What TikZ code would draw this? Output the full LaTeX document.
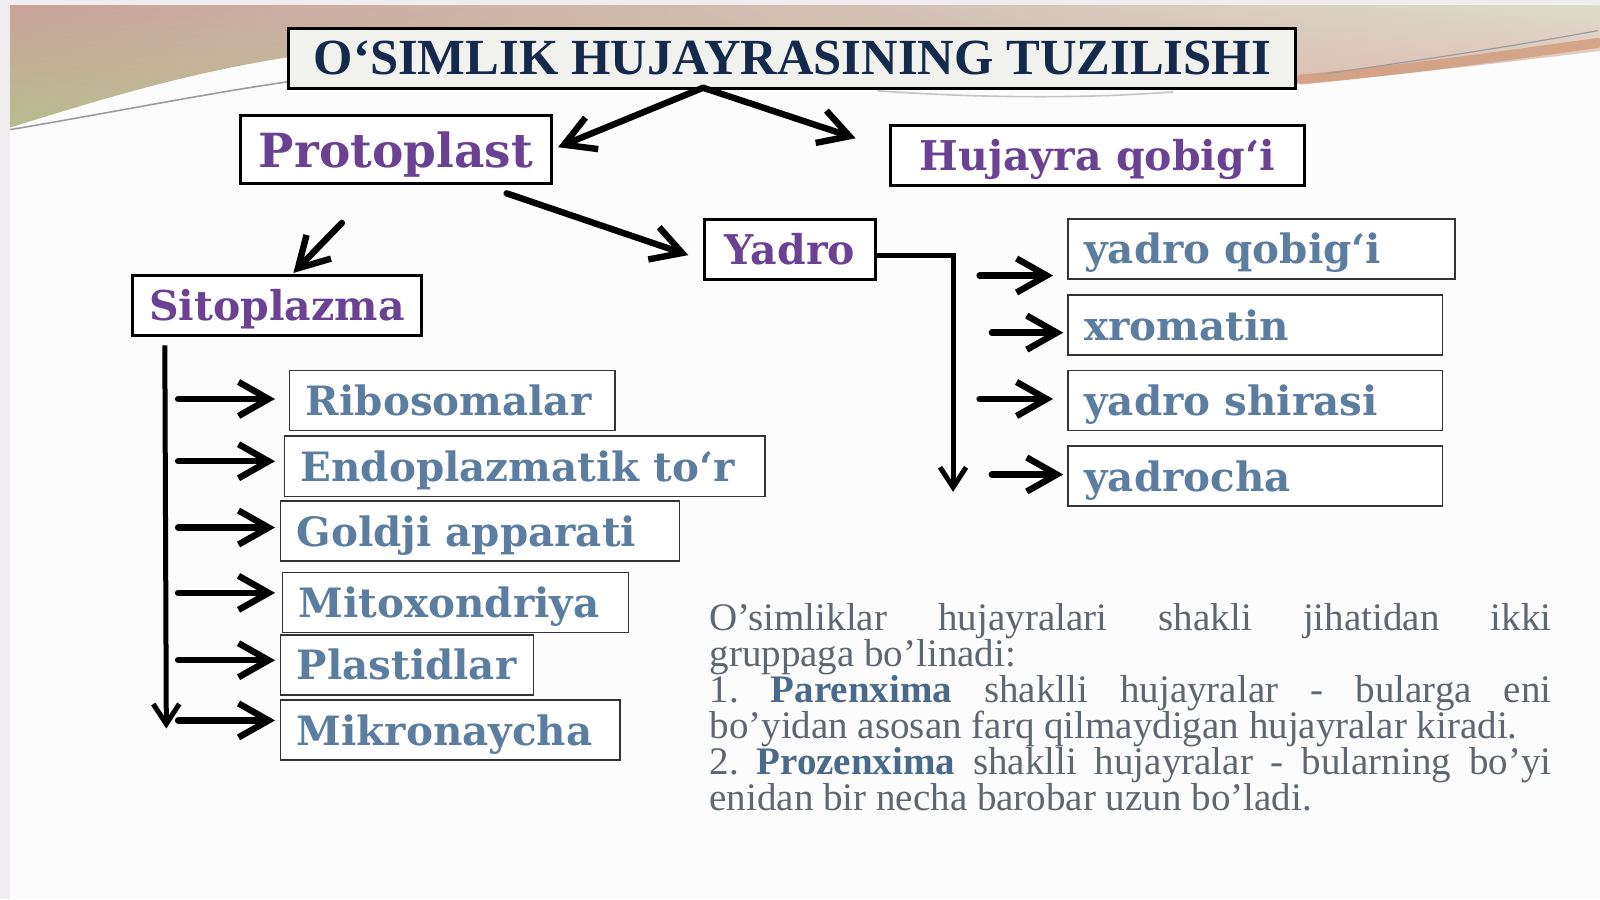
\documentclass[tikz,border=0pt]{standalone}
\usepackage{fontspec}
\setmainfont{Liberation Serif}
\newfontfamily\boxfont{DejaVu Serif}
\usetikzlibrary{arrows.meta, calc, shadings}
\newlength\px
\setlength\px{0.5102pt}
\definecolor{Frame}{HTML}{EFEDEF}
\definecolor{Slide}{HTML}{FCFCFC}
\definecolor{BandA}{HTML}{C8A39A}
\definecolor{BandB}{HTML}{B6BD8E}
\definecolor{BandC}{HTML}{DCDCCB}
\definecolor{BandD}{HTML}{E8B4AF}
\definecolor{Streak}{HTML}{CF9574}
\definecolor{Rule}{HTML}{9C9C9C}
\definecolor{Navy}{HTML}{15294D}
\definecolor{Violet}{HTML}{6B4193}
\definecolor{Steel}{HTML}{5A7DA0}
\definecolor{Prose}{HTML}{5E6670}
\definecolor{ProseBold}{HTML}{4A6A8C}
\definecolor{TitleFill}{HTML}{F1F2EE}
\tikzset{
	titlebox/.style={draw, line width=1.5pt, fill=TitleFill, inner sep=0pt, minimum height=59\px, text height=16pt, text depth=0pt, text=Navy, font=\bfseries\fontsize{25.3}{28}\selectfont},
	bigbox/.style={draw, line width=1.5pt, fill=white, inner sep=0pt, minimum height=59\px, text height=15pt, text depth=0pt, text=Violet, font=\boxfont\bfseries\fontsize{#1}{24}\selectfont},
	bigbox/.default=20.5,
	partbox/.style={draw=black!80, line width=0.8pt, fill=white, anchor=west, inner xsep=16\px, inner ysep=0pt, minimum height=59\px, text width=#1\px, align=flush left, text height=15pt, text depth=0pt, text=Steel, font=\boxfont\bfseries\fontsize{20.2}{24}\selectfont},
	arr/.style={line width=3.2pt, line cap=round, line join=round, -{Straight Barb[length=15pt, width=17pt]}},
	vline/.style={line width=2.5pt, -{Straight Barb[length=10pt, width=13pt]}},
	prose/.style={anchor=north west, inner sep=0pt, text width=825\px, align=flush left, text=Prose, font=\fontsize{19.5}{18}\selectfont\frenchspacing}
}
\newcommand\fullline[1]{\makebox[825\px][s]{#1}}
\newcommand\hl[1]{\textbf{\textcolor{ProseBold}{#1}}}

\begin{document}
\begin{tikzpicture}[x=0.5102pt, y=-0.5102pt]
	\useasboundingbox (0,0) rectangle (1568,881.1);
	
	% slide and top band
	\fill[Frame] (0,0) rectangle (1568,881.1);
	\fill[Slide] (10,5) rectangle (1568,881.1);
	\shade[upper left=BandA, lower left=BandB, upper right=BandC, lower right=BandD] (10,5) -- (1568,5) -- (1568,50) .. controls (1450,64) and (1350,76) .. (1270,82) -- (283,56) .. controls (180,72) and (90,100) .. (10,125) -- cycle;
	\draw[Streak, line width=5pt, line cap=round, opacity=0.7] (1275,78) .. controls (1380,68) and (1480,54) .. (1566,42);
	\draw[Rule, line width=0.6pt] (1300,72) .. controls (1400,58) and (1490,44) .. (1566,30);
	\draw[Rule, line width=0.8pt] (10,127) .. controls (100,112) and (200,92) .. (283,80);
	\draw[Rule!60, line width=0.8pt] (860,89) .. controls (960,96) and (1060,97) .. (1150,90);
	
	% boxes
	\node[titlebox, minimum width=987\px] (title) at (776.5,57.5) {O‘SIMLIK HUJAYRASINING TUZILISHI};
	\node[bigbox=23.5, minimum width=304\px, minimum height=67\px, text height=18pt] (proto) at (388,146.5) {Protoplast};
	\node[bigbox, minimum width=405\px] (qobiq) at (1075.5,152.5) {Hujayra qobig‘i};
	\node[bigbox, minimum width=168\px] (yadro) at (774,244.5) {Yadro};
	\node[bigbox, minimum width=283\px] (sito) at (271.5,299.5) {Sitoplazma};
	
	\node[partbox=287] (ribo) at (283,392.5) {Ribosomalar};
	\node[partbox=439] (endo) at (278,457) {Endoplazmatik to‘r};
	\node[partbox=359] (goldji) at (274,520.5) {Goldji apparati};
	\node[partbox=307] (mito) at (276,590.5) {Mitoxondriya};
	\node[partbox=216] (plast) at (274,651.5) {Plastidlar};
	\node[partbox=301] (mikro) at (274,715.5) {Mikronaycha};
	
	\node[partbox=347] (yqob) at (1046,244) {yadro qobig‘i};
	\node[partbox=335] (xrom) at (1046,318.5) {xromatin};
	\node[partbox=335] (yshira) at (1046,392.5) {yadro shirasi};
	\node[partbox=335] (ycha) at (1046,466.5) {yadrocha};
	
	% arrows
	\coordinate (apex) at (689,86);
	\draw[arr, shorten >=3pt] (apex) -- (proto.east);
	\draw[arr] (apex) -- ($(qobiq.west)+(-33,-17)$);
	\draw[arr] ($(proto.south east)+(-45,8)$) -- ($(yadro.west)+(-14,5.5)$);
	\draw[arr] ($(proto.south)+(-53,37)$) -- ($(sito.north)+(16,-1)$);
	
	\coordinate (vtop) at ($(sito.south west)+(33,8)$);
	\coordinate (vbot) at (163,714);
	\draw[vline] (vtop) -- (vbot);
	\foreach \name/\dy in {ribo/-1.5, endo/-5, goldji/-3.5, mito/-9.5, plast/-4.5, mikro/-9.5}
		\draw[arr] ($(\name.west -| vtop)+(13,\dy)$) -- ($(\name.west -| vtop)+(108,\dy)$);
	
	\coordinate (ydown) at (934,482);
	\draw[vline] ($(yadro.east)+(0,6)$) -| (ydown);
	\foreach \name/\sx/\tx/\dy in {yqob/-86/-14/26, xrom/-74/-4/7.5, yshira/-86/-14/-1.5, ycha/-74/-4/-1.5}
		\draw[arr] ($(\name.west)+(\sx,\dy)$) -- ($(\name.west)+(\tx,\dy)$);
	
	% text
	\node[prose] (matn) at (695,591) {\fullline{O’simliklar hujayralari shakli jihatidan ikki}\\
		gruppaga bo’linadi:\\
		\fullline{1. \hl{Parenxima} shaklli hujayralar - bularga eni}\\
		bo’yidan asosan farq qilmaydigan hujayralar kiradi.\\
		\fullline{2. \hl{Prozenxima} shaklli hujayralar - bularning bo’yi}\\
		enidan bir necha barobar uzun bo’ladi.};
\end{tikzpicture}
\end{document}
